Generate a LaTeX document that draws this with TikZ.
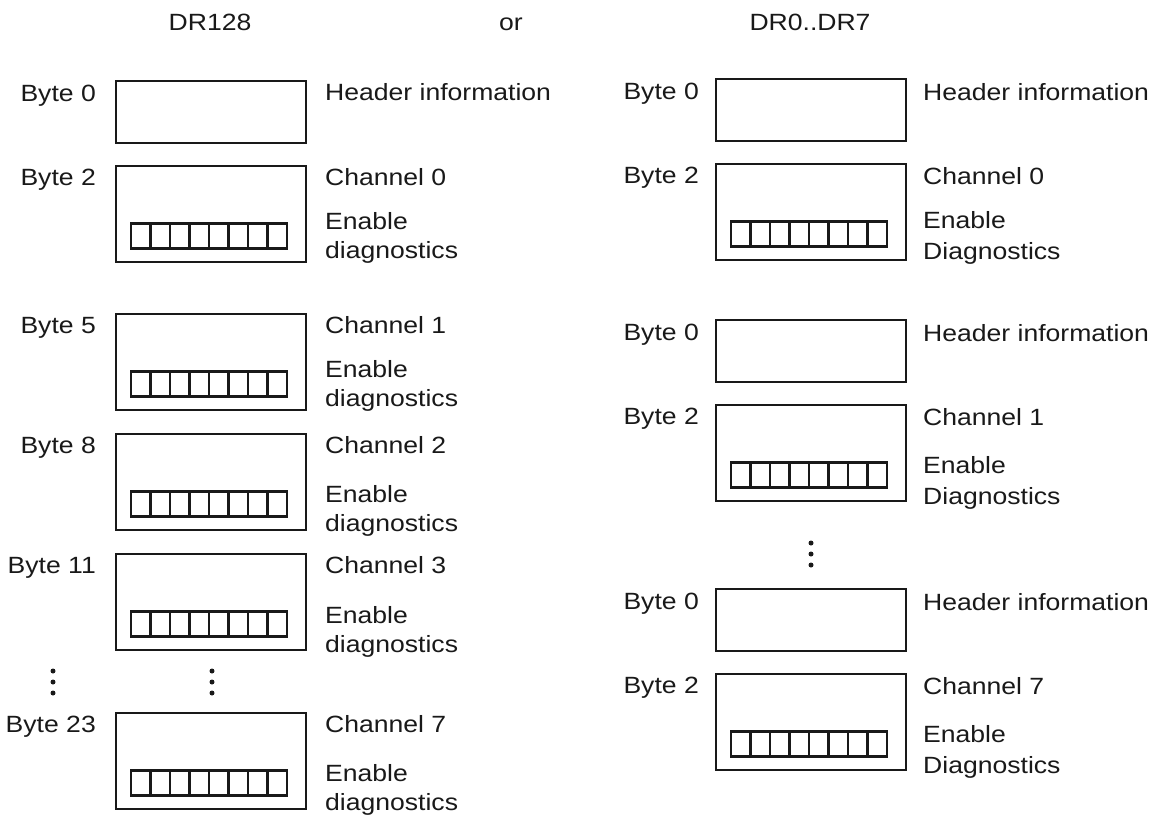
\documentclass[tikz,border=0pt]{standalone}
\usepackage{fontspec}
\setmainfont{Liberation Sans}[FakeStretch=1.13]
\begin{document}
\begin{tikzpicture}[x=1pt,y=-1pt,
  txt/.style={inner sep=0pt, font=\fontsize{23.5}{29}\selectfont, text=black!90},
  lab/.style={txt, anchor=base east},
  desc/.style={txt, anchor=base west},
  frame/.style={draw=black!90, line width=2.4pt},
  bits/.style={draw=black!90, line width=2.2pt},
  dot/.style={circle, fill=black!90, inner sep=0pt, minimum size=5pt}]
\useasboundingbox (0,0) rectangle (1155,820);
\newcommand\hdrbox[2]{\draw[frame] (#1,#2) rectangle ++(190,62);}
\newcommand\chanbox[2]{%
  \draw[frame] (#1,#2) rectangle ++(190,96);
  \draw[bits] (#1+15,#2+57.5) rectangle ++(156,25);
  \foreach \k in {1,...,7} {\draw[bits] (#1+15+19.5*\k,#2+57.5) -- ++(0,25);}
}
% titles
\node[txt, anchor=base] (t1) at (210,30) {DR128};
\node[txt, anchor=base] (t2) at (511,30) {or};
\node[txt, anchor=base] (t3) at (810,30) {DR0..DR7};
% ---------- left column ----------
\hdrbox{116}{81}
\node[lab] (lb0) at (96,101) {Byte 0};
\node[desc] (lh0) at (325,100) {Header information};
\foreach \t/\b/\ch/\en/\nm in {166/Byte 2/Channel 0/229/a,314/Byte 5/Channel 1/377/b,434/Byte 8/Channel 2/502/c,554/Byte 11/Channel 3/623/d,713/Byte 23/Channel 7/781/e} {
  \chanbox{116}{\t}
  \node[lab] (lb\nm) at (96,\t+19) {\b};
  \node[desc] (lc\nm) at (325,\t+19) {\ch};
  \node[desc] (le\nm) at (325,\en) {Enable};
  \node[desc] (ld\nm) at (325,\en+29) {diagnostics};
}
\foreach \yy [count=\i] in {671,682,693} {
  \node[dot] (ldl\i) at (53,\yy) {};
  \node[dot] (ldm\i) at (212,\yy) {};
}
% ---------- right column ----------
\foreach \h/\t/\en/\ch/\nm in {79/164/228/Channel 0/a,320/405/473/Channel 1/b,589/674/742/Channel 7/c} {
  \hdrbox{716}{\h}
  \node[lab] (rbh\nm) at (699,\h+20) {Byte 0};
  \node[desc] (rh\nm) at (923,\h+21) {Header information};
  \chanbox{716}{\t}
  \node[lab] (rb\nm) at (699,\t+19) {Byte 2};
  \node[desc] (rc\nm) at (923,\t+20) {\ch};
  \node[desc] (re\nm) at (923,\en) {Enable};
  \node[desc] (rd\nm) at (923,\en+31) {Diagnostics};
}
\foreach \yy [count=\i] in {543,554,565} {
  \node[dot] (rdm\i) at (811,\yy) {};
}
\end{tikzpicture}
\end{document}
